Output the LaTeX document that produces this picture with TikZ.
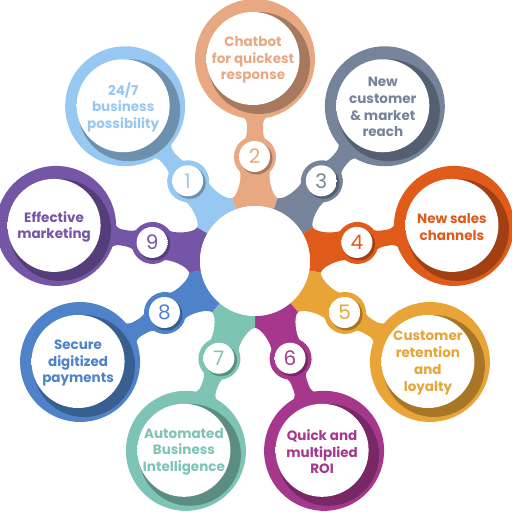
\documentclass[tikz,border=0pt]{standalone}
\usepackage{fontspec}
\setmainfont{Poppins}
\definecolor{cA}{HTML}{97C8F2}
\definecolor{cB}{HTML}{E8A882}
\definecolor{cC}{HTML}{75849A}
\definecolor{cD}{HTML}{E05A1A}
\definecolor{cE}{HTML}{E8A436}
\definecolor{cF}{HTML}{A5388C}
\definecolor{cG}{HTML}{7EC4B4}
\definecolor{cH}{HTML}{4F82C8}
\definecolor{cI}{HTML}{7455A6}
\pgfdeclareradialshading{discshade}{\pgfpoint{0bp}{0bp}}{color(0bp)=(white); color(30bp)=(white); color(50bp)=(black!13)}
\tikzset{
  whitedisc/.style={shading=discshade},
  bigtext/.style={align=center, font=\fontsize{13.5}{16.7}\selectfont\bfseries, inner sep=0pt},
  numtext/.style={font=\fontsize{20}{20}\selectfont, inner sep=0pt}
}
\begin{document}
\begin{tikzpicture}[x=1pt,y=1pt]
\useasboundingbox (0,0) rectangle (512,512);
\coordinate (O) at (255,251);
% coloured petals
\foreach \a/\c/\n in {130/cA/1, 90/cB/2, 50/cC/3, 10/cD/4, -30/cE/5, -70/cF/6, -110/cG/7, -150/cH/8, 170/cI/9}
{
  \begin{scope}[shift={(O)}, rotate=\a]
    \fill[\c] (-20:55) arc[start angle=-20, end angle=20, radius=55] -- (20:67) arc[start angle=20, end angle=-20, radius=67] -- cycle;
    \fill[\c] (58,-21) -- (63,-22.5) .. controls (66,-17) and (83,-13) .. (90,-15) -- (90,15) .. controls (83,13) and (66,17) .. (63,22.5) -- (58,21) -- cycle;
    \fill[\c] (116,-13) .. controls (124,-8) and (128,-8) .. (132,-8) -- (136,-8) .. controls (140,-8) and (143,-10) .. (148,-15) -- (148,15) .. controls (143,10) and (140,8) .. (136,8) -- (132,8) .. controls (128,8) and (124,8) .. (116,13) -- cycle;
    \fill[\c] (104,0) circle[radius=21];
    \fill[\c] (202,0) circle[radius=60];
    \coordinate (N\n) at (104,0);
    \coordinate (B\n) at (202,0);
  \end{scope}
}
% central disc
\fill[white] (O) circle[radius=55];
% white discs, shadows and texts
\foreach \c/\n/\t in {cA/1/{24/7\\business\\possibility}, cB/2/{Chatbot\\for quickest\\response}, cC/3/{New\\customer\\\& market\\reach}, cD/4/{New sales\\channels}, cE/5/{Customer\\retention\\and\\loyalty}, cF/6/{Quick and\\multiplied\\ROI}, cG/7/{Automated\\Business\\Intelligence}, cH/8/{Secure\\digitized\\payments}, cI/9/{Effective\\marketing}}
{
  \fill[\c!72!black] ([shift={(4,-4)}]B\n) circle[radius=51];
  \shade[whitedisc] ([shift={(-2,0.5)}]B\n) circle[radius=46.5];
  \node[bigtext, text=\c] (T\n) at ([shift={(-2,-1)}]B\n) {\t};
  \fill[\c!72!black] ([shift={(1.5,-1.5)}]N\n) circle[radius=16];
  \shade[whitedisc] ([shift={(-0.5,0.5)}]N\n) circle[radius=15.5];
  \node[numtext, text=\c] (K\n) at ([shift={(-0.5,0.5)}]N\n) {\n};
}
\end{tikzpicture}
\end{document}
